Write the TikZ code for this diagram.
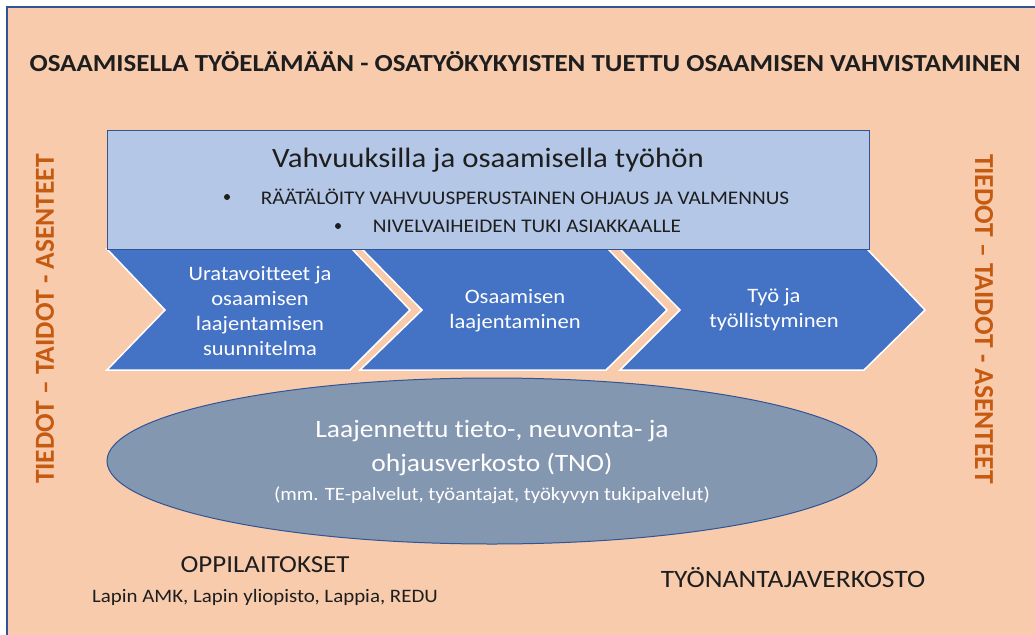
\documentclass[tikz,border=0pt]{standalone}
\usepackage{fontspec}
\setmainfont{Carlito}[Ligatures=NoCommon]
\usetikzlibrary{shapes.geometric}
\definecolor{peach}{HTML}{F8CBAD}
\definecolor{frameblue}{HTML}{2F5597}
\definecolor{lightbox}{HTML}{B4C7E7}
\definecolor{chev}{HTML}{4472C4}
\definecolor{ellfill}{HTML}{8497B0}
\definecolor{orangetxt}{HTML}{C55A11}
\definecolor{darktxt}{HTML}{1E1E1E}
\tikzset{
  wide/.style={xscale=1.1, transform shape},
  chevshape/.style={fill=chev, draw=white, line width=1.5pt, line join=miter},
  chevtext/.style={wide, text=white, align=center, font=\fontsize{20.5}{25}\selectfont},
  sidetext/.style={text=orangetxt, font=\bfseries\fontsize{27.5}{30}\selectfont},
  darklabel/.style={wide, text=darktxt},
}
\begin{document}
\begin{tikzpicture}[x=1pt,y=-1pt]
\useasboundingbox (0,0) rectangle (1035,634);
\clip (0,0) rectangle (1035,634);
\fill[white] (0,0) rectangle (1035,634);
\draw[fill=peach, draw=frameblue, line width=1.5pt] (7,7) rectangle (1045,645);

% title
\node[darklabel, font=\bfseries\fontsize{24.5}{28}\selectfont] (title) at (525,62)
  {OSAAMISELLA TYÖELÄMÄÄN - OSATYÖKYKYISTEN TUETTU OSAAMISEN VAHVISTAMINEN};

% side texts
\node[sidetext, rotate=90] (lside) at (45,319) {TIEDOT – TAIDOT - ASENTEET};
\node[sidetext, rotate=-90] (rside) at (984,319) {TIEDOT – TAIDOT - ASENTEET};

% chevrons
\draw[chevshape] (107,249) -- (352,249) -- (410,310) -- (350,370) -- (107,370) -- (165,310) -- cycle;
\draw[chevshape] (362,249) -- (608,249) -- (667,310) -- (606,370) -- (360,370) -- (422,310) -- cycle;
\draw[chevshape] (620,249) -- (867,249) -- (925,310) -- (864,370) -- (620,370) -- (680,310) -- cycle;

\node[chevtext] (c1) at (260,311) {Uratavoitteet ja\\osaamisen\\laajentamisen\\suunnitelma};
\node[chevtext] (c2) at (515,311) {Osaamisen\\laajentaminen};
\node[chevtext] (c3) at (774,310) {Työ ja\\työllistyminen};

% top box
\draw[fill=lightbox, draw=frameblue, line width=1pt] (107,130) rectangle (869,249);
\node[darklabel, font=\fontsize{28}{32}\selectfont] (head) at (488,160) {Vahvuuksilla ja osaamisella työhön};
\node[darklabel, font=\fontsize{19.3}{22}\selectfont, anchor=west] (b1) at (257,197) {RÄÄTÄLÖITY VAHVUUSPERUSTAINEN OHJAUS JA VALMENNUS};
\node[darklabel, font=\fontsize{19.3}{22}\selectfont, anchor=west] (b2) at (369,226) {NIVELVAIHEIDEN TUKI ASIAKKAALLE};
\fill[darktxt] (227,197) circle (3);
\fill[darktxt] (338,226) circle (3);

% ellipse
\node[ellipse, fill=ellfill, draw=frameblue, line width=1pt, minimum width=770, minimum height=166, inner sep=0] (tno) at (492,461) {};
\node[wide, text=white, align=center, font=\fontsize{25}{34}\selectfont] (tnotxt) at (492,448) {Laajennettu tieto-, neuvonta- ja\\ohjausverkosto (TNO)};
\node[wide, text=white, font=\fontsize{18.8}{22}\selectfont] (tnosmall) at (492,495) {(mm. TE-palvelut, työantajat, työkyvyn tukipalvelut)};

% bottom labels
\node[darklabel, font=\fontsize{24.5}{28}\selectfont] (opp) at (265,565) {OPPILAITOKSET};
\node[darklabel, font=\fontsize{19}{22}\selectfont] (lapin) at (265,597) {Lapin AMK, Lapin yliopisto, Lappia, REDU};
\node[darklabel, font=\fontsize{25}{28}\selectfont] (tyon) at (793,578) {TYÖNANTAJAVERKOSTO};
\end{tikzpicture}
\end{document}
